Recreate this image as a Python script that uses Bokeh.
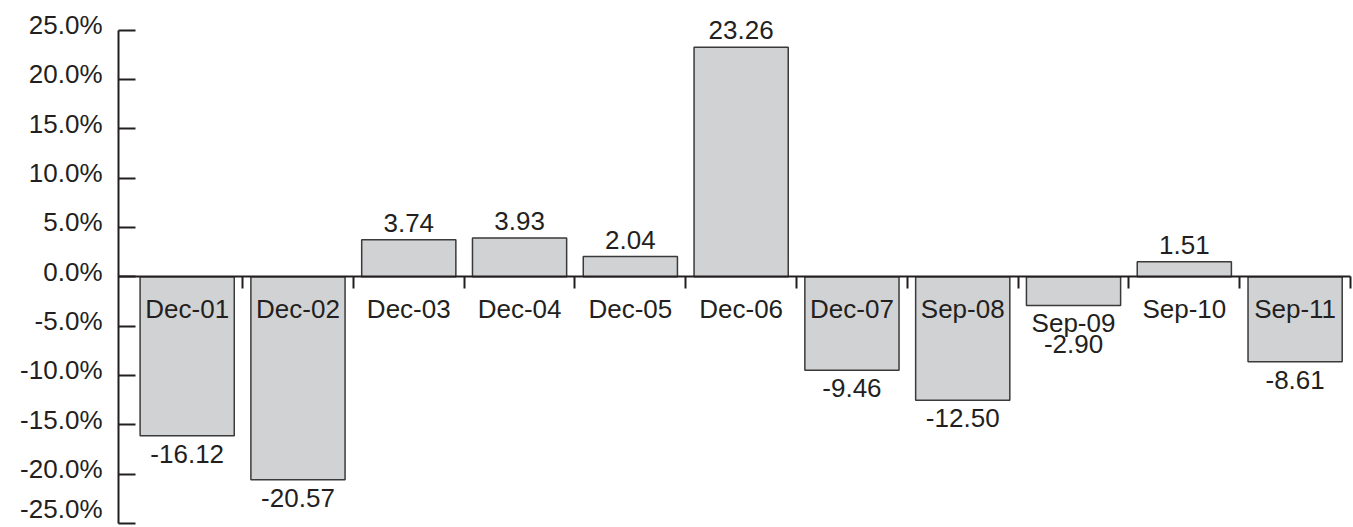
from bokeh.plotting import figure
from bokeh.models import ColumnDataSource, Range1d, FixedTicker, LinearAxis
from bokeh.embed import file_html
from bokeh.resources import INLINE
from bokeh.core.properties import value

categories = ["Dec-01", "Dec-02", "Dec-03", "Dec-04", "Dec-05", "Dec-06",
              "Dec-07", "Sep-08", "Sep-09", "Sep-10", "Sep-11"]
values = [-16.12, -20.57, 3.74, 3.93, 2.04, 23.26, -9.46, -12.50, -2.90, 1.51, -8.61]
y_ticks = [-25, -20, -15, -10, -5, 0, 5, 10, 15, 20, 25]
y_tick_labels = ["-25.0%", "-20.0%", "-15.0%", "-10.0%", "-5.0%", "0.0%",
                 "5.0%", "10.0%", "15.0%", "20.0%", "25.0%"]

FONT = "Liberation Sans"
INK = "#231f20"
Y_AXIS_X = -0.12  # y axis sits just left of the first category slot
Y_MIN, Y_MAX = -25, 25

n = len(categories)
xs = [i + 0.5 for i in range(n)]
val_text = [f"{v:.2f}" for v in values]

cat_y, cat_off, val_y, val_off = [], [], [], []
for v in values:
    if v >= 0:
        cat_y.append(0); cat_off.append(32)
        val_y.append(v); val_off.append(-17)
    elif v > -4.5:
        cat_y.append(v); cat_off.append(18)
        val_y.append(v); val_off.append(39)
    else:
        cat_y.append(0); cat_off.append(32)
        val_y.append(v); val_off.append(18)

# tick labels sit slightly above their ticks; the lowest one is lifted more to stay on the page
y_lab_off = [-15 if t == Y_MIN else -5 for t in y_ticks]

src = ColumnDataSource(dict(x=xs, top=values, cat=categories, val=val_text,
                            cat_y=cat_y, cat_off=cat_off, val_y=val_y, val_off=val_off))
ysrc = ColumnDataSource(dict(y=y_ticks, t=y_tick_labels, x=[Y_AXIS_X] * len(y_ticks), off=y_lab_off))

p = figure(width=1353, height=527, x_range=Range1d(-1.185, 11.027), y_range=Range1d(-25.405, 27.99),
           output_backend="svg", toolbar_location=None, min_border=0,
           x_axis_location=None, y_axis_location=None)
p.outline_line_color = None
p.xgrid.grid_line_color = None
p.ygrid.grid_line_color = None
p.background_fill_color = "white"
p.border_fill_color = "white"

p.vbar(x="x", top="top", bottom=0, width=0.85, source=src,
       fill_color="#d1d2d4", line_color="#3a3a3a", line_width=1.5)

ya = LinearAxis(fixed_location=Y_AXIS_X, ticker=FixedTicker(ticks=y_ticks), bounds=(Y_MIN, Y_MAX),
                major_tick_in=17, major_tick_out=0, minor_tick_line_color=None,
                major_label_text_font_size="0px", major_label_text_color=None,
                axis_line_width=2, major_tick_line_width=2,
                axis_line_color=INK, major_tick_line_color=INK)
p.add_layout(ya, "left")

xa = LinearAxis(fixed_location=0, ticker=FixedTicker(ticks=list(range(1, n + 1))),
                bounds=(Y_AXIS_X, n),
                major_tick_out=12, major_tick_in=0, minor_tick_line_color=None,
                major_label_text_font_size="0px", major_label_text_color=None,
                axis_line_width=2, major_tick_line_width=2,
                axis_line_color=INK, major_tick_line_color=INK)
p.add_layout(xa, "below")

p.text(x="x", y="y", text="t", x_offset=-16, y_offset="off", source=ysrc,
       text_font=value(FONT), text_font_size="26px", text_color=INK,
       text_align="right", text_baseline="middle")
p.text(x="x", y="cat_y", text="cat", y_offset="cat_off", source=src,
       text_font=value(FONT), text_font_size="26px", text_color=INK,
       text_align="center", text_baseline="middle")
p.text(x="x", y="val_y", text="val", y_offset="val_off", source=src,
       text_font=value(FONT), text_font_size="26px", text_color=INK,
       text_align="center", text_baseline="middle")

open("out.html", "w").write(file_html(p, INLINE))
